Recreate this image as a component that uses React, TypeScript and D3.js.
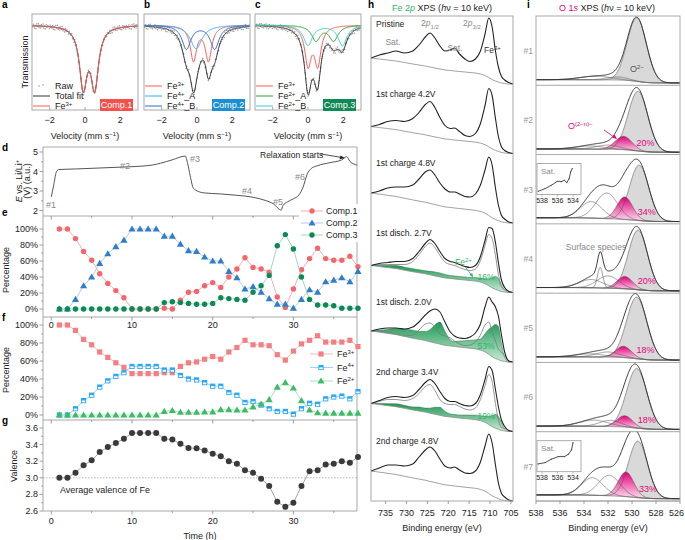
import React from "react";
import * as d3 from "d3";

const FONT = "'Liberation Sans', Arial, Helvetica, sans-serif";

// ======================= DATA =======================
// a–c  Mössbauer fit components (velocity mm/s, depth in absorption a.u.)
const VEL_TICKS = [-2, 0, 2];
const MB_A = [{ name: "Fe3+", centers: [-0.1, 0.55], hwhm: 0.26, depth: 0.7 }];
const MB_B = [
  { name: "Fe3+", centers: [-0.2, 0.65], hwhm: 0.22, depth: 0.41 },
  { name: "Fe4+_A", centers: [-0.05], hwhm: 0.4, depth: 0.28 },
  { name: "Fe4+_B", centers: [-0.6, 1.0], hwhm: 0.3, depth: 0.28 },
];
const MB_C = [
  { name: "Fe3+", centers: [0.0, 0.55], hwhm: 0.22, depth: 0.45 },
  { name: "Fe2+_A", centers: [0.45, 1.45], hwhm: 0.3, depth: 0.18 },
  { name: "Fe2+_B", centers: [0.0, 1.95], hwhm: 0.3, depth: 0.24 },
];
const RAW_RESIDUALS = [0.012, -0.018, 0.025, -0.006, 0.03, -0.022, 0.004, -0.028, 0.016, -0.01, 0.021, -0.015, 0.008, -0.026, 0.019, -0.004, 0.027, -0.02, 0.011, -0.013, 0.0, 0.023, -0.017, 0.006];

// d–g  operando data (time in h)
const HOURS = [1, 2, 3, 4, 5, 6, 7, 8, 9, 10, 11, 12, 13, 14, 15, 16, 17, 18, 19, 20, 21, 22, 23, 24, 25, 26, 27, 28, 29, 30, 31, 32, 33, 34, 35, 36, 37, 38];
const TIME_TICKS = [0, 10, 20, 30];
const VOLT_T = [0, 0.3, 0.6, 0.9, 3, 6, 9, 11, 12.5, 13.5, 15, 16.6, 16.9, 17.2, 17.6, 18.2, 19, 21, 23, 25, 26.5, 27.5, 28.5, 28.7, 29.3, 30, 30.7, 31.2, 31.7, 32.2, 33, 34.5, 36, 36.6, 37, 37.5, 37.9];
const VOLT_V = [2.7, 3.3, 3.95, 4.1, 4.13, 4.18, 4.23, 4.27, 4.33, 4.42, 4.6, 4.79, 4.4, 3.8, 3.15, 2.98, 2.9, 2.85, 2.78, 2.68, 2.52, 2.35, 2.02, 2.25, 2.45, 2.6, 2.8, 3.2, 3.85, 4.15, 4.3, 4.45, 4.6, 4.76, 4.52, 4.38, 4.33];
const COMP1 = [100, 100, 88, 72, 61, 44, 32, 23, 14, 0, 0, 0, 0, 1, 0, 11, 21, 22, 29, 33, 27, 40, 50, 64, 52, 50, 46, 15, 2, 25, 49, 63, 76, 63, 61, 61, 66, 53];
const COMP2 = [0, 0, 12, 29, 40, 57, 69, 78, 86, 100, 100, 100, 100, 91, 91, 81, 73, 72, 65, 60, 60, 47, 39, 25, 28, 21, 13, 6, 6, 1, 12, 24, 21, 34, 36, 39, 34, 47];
const COMP3 = [0, 0, 0, 0, 0, 0, 0, 0, 0, 0, 0, 0, 0, 8, 9, 8, 7, 6, 6, 7, 14, 13, 12, 11, 21, 29, 42, 79, 93, 75, 40, 12, 5, 5, 4, 1, 1, 1];
const FE3 = [100, 100, 94, 84, 78, 70, 64, 58, 53, 46, 46, 46, 46, 47, 47, 54, 58, 59, 62, 65, 62, 70, 75, 83, 78, 78, 77, 67, 61, 71, 79, 83, 88, 81, 81, 81, 83, 76];
const FE4 = [0, 0, 7, 16, 22, 31, 38, 43, 47, 54, 54, 54, 54, 50, 50, 44, 40, 39, 36, 32, 32, 25, 22, 14, 15, 11, 7, 4, 4, 1, 7, 13, 12, 18, 20, 21, 18, 26];
const FE2 = [0, 0, 0, 0, 0, 0, 0, 0, 0, 0, 0, 0, 0, 4, 5, 3, 3, 3, 3.5, 3.5, 6, 6, 5.5, 5.5, 9, 12, 17, 31, 36, 30, 16, 5.5, 2.5, 2, 2, 2, 2, 2];
const VALENCE = [3.0, 3.0, 3.06, 3.15, 3.21, 3.31, 3.37, 3.42, 3.47, 3.54, 3.54, 3.54, 3.54, 3.47, 3.46, 3.41, 3.36, 3.355, 3.33, 3.29, 3.26, 3.2, 3.17, 3.09, 3.06, 2.99, 2.9, 2.71, 2.65, 2.7, 2.9, 3.08, 3.09, 3.16, 3.17, 3.2, 3.18, 3.25];
const PCT_TICKS = [0, 20, 40, 60, 80, 100];
const VOLT_TICKS = [2, 3, 4, 5];
const VAL_TICKS = [2.6, 2.8, 3.0, 3.2, 3.4, 3.6];

// h  Fe 2p spectra (binding energy eV, intensity a.u.)
const H_LABELS = ["Pristine", "1st charge 4.2V", "1st charge 4.8V", "1st disch. 2.7V", "1st disch. 2.0V", "2nd charge 3.4V", "2nd charge 4.8V"];
const H_BE = [738.5, 736.5, 734.5, 732.5, 730.5, 728.5, 727, 725.5, 724.4, 723.2, 722, 720.8, 719.5, 718.5, 717.3, 716, 714.8, 713.5, 712.3, 711.2, 710.3, 709.5, 708.7, 708, 707.3, 706.5, 705.5, 704.5];
const H_TOTAL = [
  [26, 29, 31, 33, 31, 33, 39, 47, 51, 46, 38, 33, 34, 36, 30, 25, 22.5, 25, 33, 50, 66, 57, 33, 17, 8, 4, 1.5, 0],
  [27, 29, 32, 33, 32, 35, 41, 49, 52, 46, 36, 28, 25, 25.5, 22, 18, 17, 20, 30, 48, 65, 58, 35, 17, 7, 3, 1, 0],
  [30, 32, 35, 36, 36, 38, 44, 51, 53, 48, 40, 34, 31, 31, 29, 26.5, 26, 29, 38, 53, 66, 58, 35, 18, 8, 4, 1, 0],
  [27, 29, 30, 31, 31, 34, 41, 49, 53, 49, 41, 34, 31, 30, 28, 26, 25, 27, 36, 52, 65, 64, 50, 30, 13, 5, 1, 0],
  [31, 33, 34, 34, 33, 35, 40, 47, 51, 53, 50, 40, 30, 26, 24, 23.5, 25, 29, 38, 55, 65, 60, 55, 46, 28, 10, 1, 0],
  [28, 31, 34, 35, 34, 36, 42, 49, 52, 48, 40, 33, 30, 30, 28, 26, 25.5, 28, 37, 52, 65, 61, 42, 25, 12, 5, 1, 0],
  [30, 33, 36, 36, 35, 37, 44, 51, 54, 50, 42, 35, 33, 34, 31, 28, 27.5, 30, 39, 55, 67, 58, 36, 18, 8, 4, 1, 0],
];
const H_BG_SHAPE = [26, 25, 24, 23, 21.5, 20, 19, 18, 17, 16, 15, 14, 13.5, 13, 12.5, 12, 11.5, 11, 10, 8.5, 6.5, 4.5, 3, 2, 1, 0.5, 0, 0];
const H_BG_LEFT = [26, 27, 30, 27, 31, 28, 30];
const H_FE2 = [
  null,
  null,
  null,
  [0, 1, 2, 3, 3, 3, 3, 3, 3.5, 4, 4, 3.5, 3, 3, 3, 3, 3, 3.5, 4, 5, 7, 10, 13, 12, 7, 2, 0, 0],
  [0, 2, 4, 6, 7, 8, 8, 9, 12, 18, 22, 14, 6, 5, 6, 7, 8, 9, 11, 18, 25, 30, 34, 33, 18, 4, 0, 0],
  [0, 1, 2, 3, 3, 3, 4, 4, 5, 7, 8, 5, 3, 3, 3, 3.5, 4, 4.5, 5, 6, 8, 11, 14, 13, 8, 2, 0, 0],
  null,
];
const H_FE2_PCT = [null, null, null, "16%", "53%", "19%", null];
const H_TICKS = [735, 730, 725, 720, 715, 710, 705];

// i  O 1s fit components [center eV, sigma eV, height a.u.]
const O_LABELS = ["#1", "#2", "#3", "#4", "#5", "#6", "#7"];
const O_MAIN = [[529.6, 0.8, 62], [529.5, 0.82, 58], [529.4, 0.8, 54], [529.5, 0.8, 58], [529.6, 0.85, 60], [529.6, 0.85, 58], [529.5, 0.8, 55]];
const O_PINK = [null, [530.7, 0.7, 13], [530.6, 0.65, 22], [530.6, 0.65, 12], [530.7, 0.65, 11], [530.6, 0.65, 11], [530.5, 0.65, 24]];
const O_PINK_PCT = [null, "20%", "34%", "20%", "18%", "18%", "33%"];
const O_OTHER = [
  [[531.2, 0.9, 3], [533.0, 1.3, 3.5]],
  [[532.0, 1.0, 4], [533.5, 1.2, 3]],
  [[532.1, 0.9, 25], [533.4, 0.9, 16]],
  [[532.0, 0.9, 12], [533.4, 1.0, 8], [532.65, 0.22, 20]],
  [[532.0, 1.0, 5], [533.5, 1.2, 3]],
  [[531.8, 0.9, 6], [533.2, 1.2, 6]],
  [[531.9, 0.9, 20], [533.3, 0.9, 17]],
];
const O_BG = [[4, 0.8], [4, 0.8], [4.5, 0.8], [4, 0.8], [4, 0.8], [4, 0.8], [4.5, 0.8]];
const O_TICKS = [538, 536, 534, 532, 530, 528, 526];
const INSET_TICKS = [538, 536, 534];
const INSET3_BE = [538.5, 537.6, 536.8, 536.0, 535.5, 535.1, 534.8, 534.5, 534.3, 534.1];
const INSET3_I = [3.3, 6, 9.3, 13.3, 13, 14.3, 12, 16, 22.7, 26];
const INSET7_BE = [538.5, 537.6, 536.8, 535.9, 535.1, 534.6, 534.2, 534.0];
const INSET7_I = [7.8, 9.1, 12.5, 15.1, 15.1, 17.5, 21.8, 29];

// ======================= STYLE =======================
const MB_COLORS = { "Fe3+": "#ff5a55", "Fe4+_A": "#2fb0ff", "Fe4+_B": "#2f6ad2", "Fe2+_A": "#2e9e3a", "Fe2+_B": "#33d2c8" };
const BOX = "#a8a8a8";
const PINK = "#e6007e";
const GREEN_T = "#2db56b";

// ======================= HELPERS =======================
const lor = (v, c, w) => 1 / (1 + ((v - c) / w) ** 2);
const gauss = (e, p) => p[2] * Math.exp(-((e - p[0]) ** 2) / (2 * p[1] * p[1]));

function Chem({ base, sup, tail, sz = 6 }) {
  return (
    <>
      {base}
      <tspan dy={-3.5} fontSize={sz}>{sup}</tspan>
      {tail ? <tspan dy={3.5}>{tail}</tspan> : null}
    </>
  );
}
function nameLabel(n) {
  const m = n.match(/^Fe(\d\+)(_\w)?$/);
  return <Chem base="Fe" sup={m[1]} tail={m[2]} />;
}

// ======================= a–c =======================
const MB_X = [[32, 138], [144, 250], [255, 361]];
function Moss({ idx, comps, tag, tagColor, letter, legendRaw }) {
  const [x0, x1] = MB_X[idx];
  const xs = d3.scaleLinear().domain([-3, 3]).range([x0, x1]);
  const ys = d3.scaleLinear().domain([0, 1]).range([25, 110]);
  const grid = d3.range(-3, 3.0001, 0.02);
  const absorb = (c, v) => c.depth * c.centers.reduce((s, m) => s + lor(v, m, c.hwhm), 0);
  const total = (v) => comps.reduce((s, c) => s + absorb(c, v), 0);
  const line = d3.line().x((d) => xs(d[0])).y((d) => ys(d[1]));
  const rawV = d3.range(-2.96, 2.97, 0.045);
  const clip = `mbclip${idx}`;
  const legendRows = legendRaw
    ? [{ k: "raw", n: "Raw" }, { k: "tot", n: "Total fit" }, ...comps.map((c) => ({ k: c.name, n: c.name }))]
    : comps.map((c) => ({ k: c.name, n: c.name }));
  return (
    <g>
      <defs>
        <clipPath id={clip}><rect x={x0} y={14} width={x1 - x0} height={96} /></clipPath>
      </defs>
      <text x={idx === 0 ? 2 : x0} y={8} fontWeight="bold" fontSize={10}>{letter}</text>
      <g clipPath={`url(#${clip})`}>
        {rawV.map((v, k) => (
          <circle key={k} cx={xs(v)} cy={ys(total(v) + RAW_RESIDUALS[k % RAW_RESIDUALS.length])} r={0.75} fill="#9a9a9a" />
        ))}
        <path d={line(grid.map((v) => [v, total(v)]))} fill="none" stroke="#333" strokeWidth={1} />
        {comps.map((c) => (
          <path key={c.name} d={line(grid.map((v) => [v, absorb(c, v)]))} fill="none" stroke={MB_COLORS[c.name]} strokeWidth={1} />
        ))}
      </g>
      <rect x={x0} y={14} width={x1 - x0} height={96} fill="none" stroke={BOX} strokeWidth={1} />
      {legendRows.map((r, i) => {
        const y = 86 + i * 10;
        return (
          <g key={r.k}>
            {r.k === "raw" ? (
              <>
                <circle cx={x0 + 7} cy={y} r={0.8} fill="#999" />
                <circle cx={x0 + 11} cy={y - 1} r={0.8} fill="#999" />
              </>
            ) : (
              <line x1={x0 + 1} x2={x0 + 18} y1={y} y2={y} stroke={r.k === "tot" ? "#333" : MB_COLORS[r.k]} strokeWidth={1} />
            )}
            <text x={x0 + 23} y={y + 3} fontSize={9} fill="#222">
              {r.k === "raw" || r.k === "tot" ? r.n : nameLabel(r.n)}
            </text>
          </g>
        );
      })}
      <rect x={x1 - 38} y={99} width={33} height={12} fill={tagColor} />
      <text x={x1 - 21.5} y={108.2} fontSize={9} fill="#fff" textAnchor="middle">{tag}</text>
      {VEL_TICKS.map((t) => (
        <g key={t}>
          <line x1={xs(t)} x2={xs(t)} y1={110} y2={107} stroke={BOX} />
          <text x={xs(t)} y={123} fontSize={9} textAnchor="middle" fill="#222">{t < 0 ? `\u2212${-t}` : t}</text>
        </g>
      ))}
      <text x={(x0 + x1) / 2} y={139} fontSize={9} textAnchor="middle" fill="#222">
        Velocity (mm s<tspan dy={-3.5} fontSize={6}>{"\u22121"}</tspan><tspan dy={3.5}>)</tspan>
      </text>
    </g>
  );
}

// ======================= d–g =======================
const LX0 = 43, LX1 = 357;
const xT = d3.scaleLinear().domain([0, 30]).range([51.3, 293.4]);
const yD = d3.scaleLinear().domain([2, 5]).range([210.5, 152]);
const yE = d3.scaleLinear().domain([0, 100]).range([309, 229]);
const yF = d3.scaleLinear().domain([0, 100]).range([415, 325]);
const yG = d3.scaleLinear().domain([2.6, 3.6]).range([511, 428]);

function Sym({ kind, x, y, color }) {
  if (kind === "circle") return <circle cx={x} cy={y} r={2.7} fill={color} />;
  if (kind === "dot") return <circle cx={x} cy={y} r={3} fill={color} />;
  if (kind === "tri") return <path d={d3.symbol(d3.symbolTriangle, 22)()} transform={`translate(${x},${y + 0.5})`} fill={color} />;
  if (kind === "square") return <rect x={x - 2.6} y={y - 2.6} width={5.2} height={5.2} fill={color} />;
  return (
    <g>
      <rect x={x - 2.6} y={y - 2.6} width={5.2} height={5.2} fill={color} />
      <rect x={x - 1.7} y={y - 0.1} width={3.4} height={1.8} fill="#fff" />
    </g>
  );
}
function Series({ values, ys, lineColor, kind, color }) {
  const pts = HOURS.map((t, i) => [xT(t), ys(values[i])]);
  return (
    <g>
      <path d={d3.line()(pts)} fill="none" stroke={lineColor} strokeWidth={0.9} />
      {pts.map((p, i) => <Sym key={i} kind={kind} x={p[0]} y={p[1]} color={color} />)}
    </g>
  );
}
function YAxis({ ys, major, minor, fmt }) {
  return (
    <g>
      {minor.map((v) => <line key={"m" + v} x1={LX0} x2={LX0 - 1.8} y1={ys(v)} y2={ys(v)} stroke="#888" strokeWidth={0.8} />)}
      {major.map((v) => (
        <g key={v}>
          <line x1={LX0} x2={LX0 - 3.5} y1={ys(v)} y2={ys(v)} stroke="#888" strokeWidth={0.8} />
          <text x={LX0 - 5} y={ys(v) + 3} fontSize={9} textAnchor="end" fill="#222">{fmt(v)}</text>
        </g>
      ))}
    </g>
  );
}
function HTicks({ y, labels }) {
  const ts = [0, 5, 10, 15, 20, 25, 30, 35];
  return (
    <g>
      {ts.map((t) => <line key={t} x1={xT(t)} x2={xT(t)} y1={y} y2={y + (t % 10 === 0 ? 3.5 : 2)} stroke="#888" strokeWidth={0.8} />)}
      {labels && TIME_TICKS.map((t) => <text key={"l" + t} x={xT(t)} y={labels} fontSize={9} textAnchor="middle" fill="#222">{t}</text>)}
    </g>
  );
}

function LeftColumn() {
  const vline = d3.line().x((d) => xT(d[0])).y((d) => yD(d[1])).curve(d3.curveMonotoneX);
  const minorPct = d3.range(10, 100, 20);
  const eLegend = [
    { n: "Comp.1", kind: "circle", c: "#f3666c", l: "#f6a3a6" },
    { n: "Comp.2", kind: "tri", c: "#2f7ec8", l: "#a9c4e6" },
    { n: "Comp.3", kind: "circle", c: "#0b8a55", l: "#96d3b5" },
  ];
  const fLegend = [
    { n: ["Fe", "3+"], kind: "square", c: "#f47f83", l: "#f6b0b2" },
    { n: ["Fe", "4+"], kind: "hsquare", c: "#29a8f5", l: "#8ccff7" },
    { n: ["Fe", "2+"], kind: "tri", c: "#3dbb66", l: "#a0deb4" },
  ];
  return (
    <g>
      <g stroke={BOX} strokeWidth={1} fill="none">
        <line x1={LX0} x2={LX1} y1={147} y2={147} />
        <line x1={LX0} x2={LX1} y1={216} y2={216} />
        <line x1={LX0} x2={LX1} y1={317} y2={317} />
        <line x1={LX0} x2={LX1} y1={420} y2={420} />
        <line x1={LX0} x2={LX1} y1={511} y2={511} />
        <line x1={LX0} x2={LX0} y1={147} y2={511} />
        <line x1={LX1} x2={LX1} y1={147} y2={511} />
      </g>
      <HTicks y={216} />
      <HTicks y={317} labels={328} />
      <HTicks y={420} />
      <HTicks y={511} labels={524} />
      {/* d */}
      <text x={2} y={151} fontWeight="bold" fontSize={10}>d</text>
      <YAxis ys={yD} major={VOLT_TICKS} minor={[2.5, 3.5, 4.5]} fmt={(v) => v} />
      <path d={vline(VOLT_T.map((t, i) => [t, VOLT_V[i]]))} fill="none" stroke="#555" strokeWidth={1} />
      <g fontSize={9} fill="#888">
        <text x={46} y={208}>#1</text>
        <text x={120} y={169}>#2</text>
        <text x={190} y={162}>#3</text>
        <text x={242} y={194}>#4</text>
        <text x={273} y={205}>#5</text>
        <text x={295} y={180}>#6</text>
      </g>
      <text x={260} y={158} fontSize={8.5} fill="#222">Relaxation starts</text>
      <line x1={321} y1={154} x2={342} y2={157.5} stroke="#222" strokeWidth={0.8} />
      <path d="M345,158 L339.5,159.3 L340.5,155.5 Z" fill="#222" />
      <g transform="translate(22,181) rotate(-90)">
        <text textAnchor="middle" fontSize={9} fill="#222"><tspan fontStyle="italic">E</tspan> vs. Li/Li<tspan dy={-3} fontSize={6}>+</tspan></text>
      </g>
      <g transform="translate(30,181) rotate(-90)">
        <text textAnchor="middle" fontSize={9} fill="#222">(V) (a.u.)</text>
      </g>
      {/* e */}
      <text x={2} y={216} fontWeight="bold" fontSize={10}>e</text>
      <YAxis ys={yE} major={PCT_TICKS} minor={minorPct} fmt={(v) => `${v}%`} />
      <Series values={COMP1} ys={yE} lineColor="#f6a3a6" kind="circle" color="#f3666c" />
      <Series values={COMP2} ys={yE} lineColor="#a9c4e6" kind="tri" color="#2f7ec8" />
      <Series values={COMP3} ys={yE} lineColor="#96d3b5" kind="circle" color="#0b8a55" />
      <g transform="translate(9,270) rotate(-90)"><text textAnchor="middle" fontSize={9} fill="#222">Percentage</text></g>
      {/* f */}
      <text x={2} y={321} fontWeight="bold" fontSize={10}>f</text>
      <YAxis ys={yF} major={PCT_TICKS} minor={minorPct} fmt={(v) => `${v}%`} />
      <Series values={FE3} ys={yF} lineColor="#f6b0b2" kind="square" color="#f47f83" />
      <Series values={FE4} ys={yF} lineColor="#8ccff7" kind="hsquare" color="#29a8f5" />
      <Series values={FE2} ys={yF} lineColor="#a0deb4" kind="tri" color="#3dbb66" />
      <g transform="translate(9,370) rotate(-90)"><text textAnchor="middle" fontSize={9} fill="#222">Percentage</text></g>
      {/* g */}
      <text x={2} y={424} fontWeight="bold" fontSize={10}>g</text>
      <YAxis ys={yG} major={VAL_TICKS} minor={[2.7, 2.9, 3.1, 3.3, 3.5]} fmt={(v) => v.toFixed(1)} />
      <line x1={LX0} x2={LX1} y1={yG(3)} y2={yG(3)} stroke="#999" strokeWidth={0.7} strokeDasharray="1.5,1.5" />
      <Series values={VALENCE} ys={yG} lineColor="#999" kind="dot" color="#3a3a3a" />
      <text x={60} y={493} fontSize={9} fill="#222">Average valence of Fe</text>
      <g transform="translate(17,466) rotate(-90)"><text textAnchor="middle" fontSize={9} fill="#222">Valence</text></g>
      <text x={200} y={539} fontSize={9} textAnchor="middle" fill="#222">Time (h)</text>
      {/* legends */}
      <rect x={299} y={204} width={63} height={38} fill="#fff" />
      {eLegend.map((r, i) => {
        const y = 211 + i * 12;
        return (
          <g key={r.n}>
            <line x1={301} x2={323} y1={y} y2={y} stroke={r.l} strokeWidth={0.9} />
            <Sym kind={r.kind} x={312} y={y} color={r.c} />
            <text x={326} y={y + 3} fontSize={9} fill="#222">{r.n}</text>
          </g>
        );
      })}
      {fLegend.map((r, i) => {
        const y = 354 + i * 13.5;
        return (
          <g key={i}>
            <line x1={310} x2={333} y1={y} y2={y} stroke={r.l} strokeWidth={0.9} />
            <Sym kind={r.kind} x={321} y={y} color={r.c} />
            <text x={337} y={y + 3} fontSize={9} fill="#222"><Chem base={r.n[0]} sup={r.n[1]} /></text>
          </g>
        );
      })}
    </g>
  );
}

// ======================= h =======================
function FePanel() {
  const x = d3.scaleLinear().domain([738.5, 704.5]).range([371, 513]);
  return (
    <g>
      <text x={368} y={8} fontWeight="bold" fontSize={10}>h</text>
      <text x={442} y={11} fontSize={9} textAnchor="middle" fill="#222">
        <tspan fill={GREEN_T}>Fe 2</tspan><tspan fill={GREEN_T} fontStyle="italic">p</tspan> XPS (<tspan fontStyle="italic">h</tspan>ν = 10 keV)
      </text>
      <defs>
        <linearGradient id="greenGrad" x1="0" y1="0" x2="0" y2="1">
          <stop offset="0" stopColor="#1f9a55" />
          <stop offset="1" stopColor="#c9ecd7" />
        </linearGradient>
      </defs>
      {H_LABELS.map((lab, i) => {
        const y0 = 84 + 69.5 * i;
        const y = d3.scaleLinear().domain([0, 70]).range([y0, y0 - 70]);
        const bg = H_BG_SHAPE.map((v) => (v * H_BG_LEFT[i]) / H_BG_SHAPE[0]);
        const tot = H_TOTAL[i];
        const fe2 = H_FE2[i];
        const line = d3.line().x((d) => x(d[0])).y((d) => y(d[1])).curve(d3.curveMonotoneX);
        const area = d3.area().x((d) => x(d[0])).y0((d) => y(d[1])).y1((d) => y(d[2])).curve(d3.curveMonotoneX);
        return (
          <g key={lab}>
            {fe2 && (
              <>
                <path d={area(H_BE.map((e, k) => [e, bg[k], bg[k] + fe2[k]]))} fill="url(#greenGrad)" stroke="none" />
                <path d={line(H_BE.map((e, k) => [e, bg[k] + fe2[k]]))} fill="none" stroke="#2c6e47" strokeWidth={0.5} />
                <path d={line(H_BE.map((e, k) => [e, tot[k] - fe2[k]]))} fill="none" stroke="#7a7a7a" strokeWidth={0.8} />
              </>
            )}
            <path d={line(H_BE.map((e, k) => [e, bg[k]]))} fill="none" stroke="#8a8a8a" strokeWidth={0.8} />
            <path d={line(H_BE.map((e, k) => [e, tot[k]]))} fill="none" stroke="#222" strokeWidth={1.1} />
            <text x={376} y={y0 - 57} fontSize={8.5} fill="#222">{lab}</text>
            {H_FE2_PCT[i] && <text x={486} y={y0 - 13} fontSize={8.5} fill={GREEN_T} textAnchor="middle">{H_FE2_PCT[i]}</text>}
          </g>
        );
      })}
      <g fontSize={8.5} fill="#888">
        <text x={393} y={45} textAnchor="middle">Sat.</text>
        <text x={455} y={51} textAnchor="middle">Sat.</text>
        <text x={430} y={26} textAnchor="middle">2<tspan fontStyle="italic">p</tspan><tspan dy={2.5} fontSize={6}>1/2</tspan></text>
        <text x={472} y={26} textAnchor="middle">2<tspan fontStyle="italic">p</tspan><tspan dy={2.5} fontSize={6}>3/2</tspan></text>
      </g>
      <text x={484} y={53} fontSize={8.5} fill="#333"><Chem base="Fe" sup="3+" /></text>
      <text x={455} y={265} fontSize={8.5} fill={GREEN_T}><Chem base="Fe" sup="2+" /></text>
      <line x1={466} y1={268} x2={471.5} y2={275} stroke={GREEN_T} strokeWidth={0.8} />
      <path d="M473,277.5 L469.3,274.6 L472.4,273 Z" fill={GREEN_T} />
      <rect x={371} y={16} width={142} height={485} fill="none" stroke={BOX} strokeWidth={1} />
      {H_TICKS.map((t) => (
        <g key={t}>
          <line x1={x(t)} x2={x(t)} y1={501} y2={504} stroke="#888" strokeWidth={0.8} />
          <text x={x(t)} y={516} fontSize={9} textAnchor="middle" fill="#222">{t}</text>
        </g>
      ))}
      <text x={442} y={531} fontSize={9} textAnchor="middle" fill="#222">Binding energy (eV)</text>
    </g>
  );
}

// ======================= i =======================
function Inset({ top, be, vals }) {
  const bx = d3.scaleLinear().domain([538.65, 533.1]).range([537, 580]);
  const by = d3.scaleLinear().domain([0, 30]).range([top + 40, top + 10]);
  const ln = d3.line().x((d) => bx(d[0])).y((d) => by(d[1])).curve(d3.curveLinear);
  return (
    <g>
      <rect x={537} y={top + 9} width={44} height={31} fill="#fff" stroke="#999" strokeWidth={0.8} />
      <text x={541} y={top + 19} fontSize={8} fill="#888">Sat.</text>
      <path d={ln(be.map((e, k) => [e, vals[k]]))} fill="none" stroke="#222" strokeWidth={0.8} />
      {be.map((e, k) => <circle key={k} cx={bx(e)} cy={by(vals[k])} r={0.6} fill="#444" />)}
      {INSET_TICKS.map((t) => (
        <g key={t}>
          <line x1={bx(t)} x2={bx(t)} y1={top + 40} y2={top + 42} stroke="#888" strokeWidth={0.6} />
          <text x={bx(t)} y={top + 48} fontSize={7} textAnchor="middle" fill="#222">{t}</text>
        </g>
      ))}
    </g>
  );
}

function OPanel() {
  const x = d3.scaleLinear().domain([538, 526]).range([536, 680]);
  const grid = d3.range(526, 538.0001, 0.04);
  const h = 485 / 7;
  return (
    <g>
      <text x={527} y={8} fontWeight="bold" fontSize={10}>i</text>
      <text x={607} y={11} fontSize={9} textAnchor="middle" fill="#222">
        <tspan fill={PINK}>O 1</tspan><tspan fill={PINK} fontStyle="italic">s</tspan> XPS (<tspan fontStyle="italic">h</tspan>ν = 10 keV)
      </text>
      <defs>
        <linearGradient id="pinkGrad" x1="0" y1="0" x2="0" y2="1">
          <stop offset="0" stopColor="#e2007a" />
          <stop offset="1" stopColor="#fde0ef" />
        </linearGradient>
      </defs>
      {O_LABELS.map((lab, i) => {
        const top = 16 + h * i;
        const bottom = top + h;
        const y = d3.scaleLinear().domain([0, 64]).range([bottom - 1.5, top + 2]);
        const comps = [O_MAIN[i], ...(O_PINK[i] ? [O_PINK[i]] : []), ...O_OTHER[i]];
        const sig = grid.map((e) => comps.reduce((s, c) => s + gauss(e, c), 0));
        const cum = [];
        sig.reduce((s, v, k) => ((cum[k] = s + v), s + v), 0);
        const [bgL, bgR] = O_BG[i];
        const bg = cum.map((c) => bgR + ((bgL - bgR) * c) / cum[cum.length - 1]);
        const line = d3.line().x((d) => x(d[0])).y((d) => y(d[1]));
        const area = d3.area().x((d) => x(d[0])).y0((d) => y(d[1])).y1((d) => y(d[2]));
        const clip = `oclip${i}`;
        const compLine = (c) => line(grid.map((e, k) => [e, bg[k] + gauss(e, c)]));
        return (
          <g key={lab}>
            <defs><clipPath id={clip}><rect x={536} y={top} width={144} height={h} /></clipPath></defs>
            <g clipPath={`url(#${clip})`}>
              <path d={area(grid.map((e, k) => [e, bg[k], bg[k] + gauss(e, O_MAIN[i])]))} fill="#d9d9d9" stroke="none" />
              {O_PINK[i] && <path d={area(grid.map((e, k) => [e, bg[k], bg[k] + gauss(e, O_PINK[i])]))} fill="url(#pinkGrad)" stroke="none" />}
              {comps.map((c, j) => <path key={j} d={compLine(c)} fill="none" stroke="#555" strokeWidth={0.55} />)}
              <path d={line(grid.map((e, k) => [e, bg[k]]))} fill="none" stroke="#666" strokeWidth={0.6} />
              <path d={line(grid.map((e, k) => [e, sig[k] + bg[k]]))} fill="none" stroke="#222" strokeWidth={0.9} />
            </g>
            <line x1={536} x2={680} y1={bottom} y2={bottom} stroke={BOX} strokeWidth={1} />
            <text x={533} y={top + 38} fontSize={8.5} fill="#999" textAnchor="end">{lab}</text>
            {O_PINK_PCT[i] && (
              <text x={x(O_PINK[i][0]) + 22} y={bottom - 9} fontSize={9} fill={PINK} textAnchor="middle">{O_PINK_PCT[i]}</text>
            )}
          </g>
        );
      })}
      <text x={637} y={72} fontSize={9} fill="#555" textAnchor="middle"><Chem base="O" sup={"2\u2212"} /></text>
      <text x={568} y={129} fontSize={9} fill={PINK}><Chem base="O" sup={"(2\u2212n)\u2212"} /></text>
      <line x1={604} y1={130} x2={614} y2={137} stroke={PINK} strokeWidth={0.8} />
      <path d="M617,139 L612.2,137.8 L614.6,134.6 Z" fill={PINK} />
      <text x={596} y={250} fontSize={8.5} fill="#888" textAnchor="middle">Surface species</text>
      <Inset top={16 + (485 / 7) * 2} be={INSET3_BE} vals={INSET3_I} />
      <Inset top={16 + (485 / 7) * 6} be={INSET7_BE} vals={INSET7_I} />
      <rect x={536} y={16} width={144} height={485} fill="none" stroke={BOX} strokeWidth={1} />
      {O_TICKS.map((t, k) => (
        <g key={t}>
          <line x1={x(t)} x2={x(t)} y1={501} y2={504} stroke="#888" strokeWidth={0.8} />
          <text x={k === O_TICKS.length - 1 ? 684 : x(t)} y={516} fontSize={9} textAnchor={k === O_TICKS.length - 1 ? "end" : "middle"} fill="#222">{t}</text>
        </g>
      ))}
      <text x={608} y={531} fontSize={9} textAnchor="middle" fill="#222">Binding energy (eV)</text>
    </g>
  );
}

export default function App() {
  return (
    <svg width={685} height={540} style={{ position: "absolute", left: 0, top: 0, background: "#fff" }} fontFamily={FONT}>
      <rect x={0} y={0} width={685} height={540} fill="#fff" />
      <Moss idx={0} comps={MB_A} tag="Comp.1" tagColor="#f4504c" letter="a" legendRaw />
      <Moss idx={1} comps={MB_B} tag="Comp.2" tagColor="#1b8fd2" letter="b" />
      <Moss idx={2} comps={MB_C} tag="Comp.3" tagColor="#0f8a55" letter="c" />
      <g transform="translate(28,62) rotate(-90)"><text textAnchor="middle" fontSize={9} fill="#222">Transmission</text></g>
      <LeftColumn />
      <FePanel />
      <OPanel />
    </svg>
  );
}
